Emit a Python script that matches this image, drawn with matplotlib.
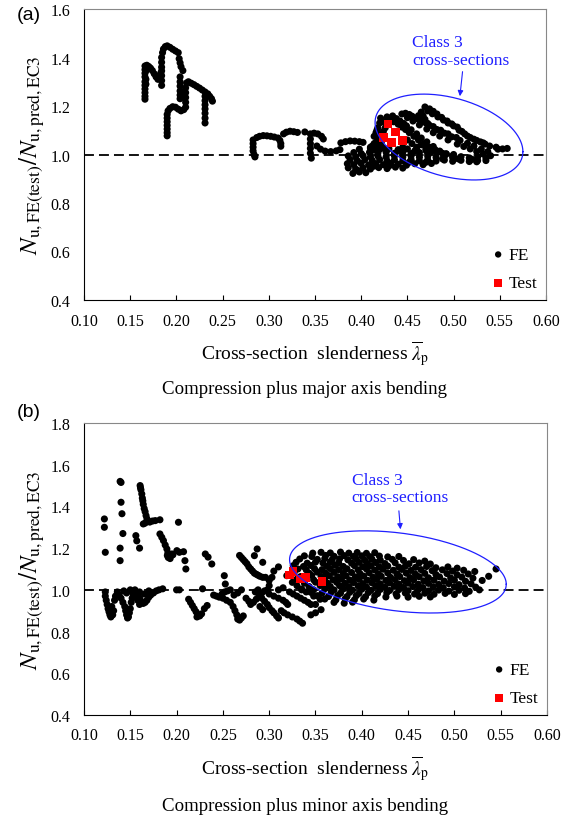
import numpy as np
import matplotlib
matplotlib.use('Agg')
import matplotlib.pyplot as plt

plt.rcParams['font.family'] = ['Liberation Serif', 'DejaVu Serif']
plt.rcParams['mathtext.fontset'] = 'stix'

# ---------------- data: panel (a) compression + major axis bending ----------------
a_g1 = [(0.166,1.365),(0.166,1.35),(0.166,1.335),(0.166,1.32),(0.166,1.30),(0.166,1.285),(0.166,1.27),
        (0.166,1.255),(0.166,1.24),(0.166,1.228),(0.167,1.345),(0.167,1.31),(0.167,1.29)]
a_g2 = [(0.168,1.368),(0.170,1.363),(0.172,1.356),(0.174,1.346),(0.176,1.333),(0.178,1.32),(0.180,1.31),
        (0.181,1.322),(0.183,1.335)]
a_g3 = [(0.184,1.40),(0.184,1.38),(0.184,1.36),(0.184,1.345),(0.184,1.325),(0.184,1.305),(0.184,1.285),(0.185,1.42)]
a_g4 = [(0.186,1.435),(0.188,1.445),(0.190,1.448),(0.193,1.442),(0.196,1.434),(0.199,1.427),(0.202,1.42)]
a_g5 = [(0.203,1.395),(0.204,1.378),(0.205,1.362),(0.207,1.346),(0.204,1.32),(0.204,1.30),(0.204,1.282),
        (0.204,1.262),(0.204,1.245),(0.204,1.23)]
a_g6 = [(0.190,1.165),(0.190,1.15),(0.190,1.135),(0.190,1.12),(0.190,1.105),(0.190,1.09),(0.190,1.077),
        (0.191,1.18),(0.193,1.19),(0.196,1.197),(0.199,1.195),(0.202,1.187),(0.205,1.18),(0.208,1.185),
        (0.210,1.195),(0.210,1.215),(0.210,1.235),(0.210,1.255),(0.210,1.275),(0.211,1.295)]
a_g7 = [(0.213,1.30),(0.216,1.294),(0.219,1.288),(0.222,1.281),(0.225,1.274),(0.228,1.266),(0.231,1.258),
        (0.234,1.25),(0.236,1.24),(0.238,1.23),(0.239,1.22),(0.231,1.24),(0.231,1.222),(0.231,1.205),
        (0.231,1.188),(0.231,1.17),(0.231,1.15),(0.231,1.13)]
a_g8 = [(0.283,1.06),(0.283,1.045),(0.283,1.03),(0.283,1.015),(0.284,1.0),(0.285,0.99),(0.287,1.07),
        (0.290,1.075),(0.294,1.078),(0.298,1.077),(0.302,1.075),(0.306,1.072),(0.310,1.068),(0.312,1.058),
        (0.313,1.045),(0.313,1.034),(0.316,1.085),(0.319,1.092),(0.323,1.096),(0.327,1.094),(0.331,1.091),
        (0.339,1.093)]
a_g9 = [(0.345,1.085),(0.349,1.088),(0.353,1.085),(0.357,1.075),(0.359,1.064),(0.345,1.064),(0.345,1.045),
        (0.345,1.025),(0.345,1.005),(0.346,0.985),(0.352,1.035),(0.356,1.022),(0.361,1.014),(0.367,1.012),
        (0.373,1.015),(0.377,1.02),(0.378,1.048),(0.383,1.053),(0.388,1.056),(0.393,1.055),(0.398,1.053),
        (0.402,1.05),(0.41,1.03),(0.414,1.045),(0.418,1.06),(0.42,1.065)]
a_low = [(0.391,0.922),(0.398,0.928),(0.405,0.925),
         (0.386,0.945),(0.394,0.94),(0.402,0.944),(0.41,0.94),(0.419,0.946),(0.428,0.942),(0.437,0.948),(0.445,0.944),
         (0.385,0.962),(0.392,0.958),(0.4,0.963),(0.408,0.957),(0.416,0.962),(0.424,0.958),(0.432,0.963),(0.44,0.96),
         (0.449,0.956),(0.458,0.962),(0.467,0.958),(0.476,0.963),
         (0.388,0.978),(0.396,0.974),(0.404,0.979),(0.412,0.975),(0.42,0.979),(0.428,0.974),(0.436,0.978),(0.445,0.974),
         (0.454,0.979),(0.463,0.974),(0.472,0.978),(0.481,0.973),(0.49,0.977),(0.499,0.972),(0.508,0.976),(0.517,0.971),
         (0.526,0.975),
         (0.386,0.994),(0.394,0.99),(0.402,0.995),(0.41,0.99),(0.418,0.994),(0.427,0.99),(0.436,0.994),(0.445,0.99),
         (0.454,0.994),(0.463,0.989),(0.472,0.993),(0.481,0.988),(0.49,0.992),(0.499,0.987),(0.508,0.991),(0.517,0.986),
         (0.526,0.99),(0.535,0.985),
         (0.392,1.008),(0.4,1.004),(0.409,1.009),(0.418,1.005),(0.427,1.009),(0.436,1.005),(0.445,1.009),(0.454,1.004),
         (0.463,1.008),(0.472,1.003),(0.482,1.007),(0.492,1.002),(0.5,1.0),
         (0.398,1.022),(0.41,1.025),(0.42,1.021),(0.43,1.024),(0.44,1.02),(0.45,1.023),(0.46,1.019),(0.47,1.017),(0.48,1.015),
         (0.396,0.935),(0.414,0.952),(0.43,0.952),(0.452,0.968),(0.47,0.968),(0.488,0.982),(0.505,0.982),(0.52,0.98)]
a_bands = [(0.428,1.155),(0.434,1.159),(0.438,1.148),(0.442,1.138),(0.446,1.128),(0.449,1.118),(0.454,1.102),
           (0.46,1.085),(0.465,1.068),(0.471,1.052),(0.478,1.033),(0.485,1.014),(0.492,1.003),(0.499,0.994),
           (0.43,1.145),(0.435,1.135),(0.44,1.125),(0.444,1.113),(0.448,1.103),(0.452,1.09),(0.457,1.075),
           (0.462,1.06),(0.468,1.045),(0.474,1.03),(0.48,1.02),(0.488,1.005),
           (0.421,1.15),(0.42,1.13),(0.418,1.11),(0.416,1.09),(0.414,1.075),(0.417,1.1),
           (0.41,1.01),(0.414,1.02),(0.418,1.03),(0.422,1.055),(0.42,1.08),(0.424,1.095),(0.426,1.11),(0.424,1.135),
           (0.444,1.167),(0.45,1.152),(0.456,1.138),(0.463,1.122),(0.471,1.105),(0.478,1.09),(0.485,1.076),
           (0.494,1.06),(0.504,1.043),(0.511,1.033),(0.518,1.023),(0.525,1.012),(0.532,1.002),
           (0.448,1.17),(0.455,1.158),(0.462,1.145),(0.47,1.13),(0.478,1.115),(0.486,1.1),(0.494,1.085),(0.503,1.07),
           (0.452,1.165),(0.459,1.15),(0.466,1.135),(0.474,1.12),(0.482,1.103),(0.49,1.088),(0.498,1.073),
           (0.507,1.058),(0.515,1.046),(0.522,1.035),(0.53,1.022),(0.537,1.012),
           (0.469,1.196),(0.474,1.188),(0.478,1.178),(0.482,1.167),(0.487,1.153),(0.493,1.138),(0.498,1.126),
           (0.504,1.113),(0.509,1.095),(0.515,1.076),(0.522,1.063),(0.529,1.052),(0.534,1.043),(0.539,1.035),
           (0.546,1.03),(0.553,1.023),
           (0.472,1.18),(0.477,1.168),(0.483,1.155),(0.489,1.142),(0.494,1.13),(0.5,1.118),(0.506,1.1),
           (0.512,1.085),(0.518,1.07),(0.525,1.058),(0.532,1.048),
           (0.465,1.175),(0.467,1.16),(0.469,1.145),
           (0.467,1.138),(0.472,1.128),(0.462,1.16),
           (0.518,0.98),(0.525,0.97),(0.558,1.025),(0.548,1.022),(0.54,0.995),(0.535,0.975),
           (0.412,1.035),(0.416,1.05),(0.421,1.04),(0.425,1.025),(0.45,1.06),(0.455,1.045),(0.46,1.03),
           (0.465,1.04),(0.47,1.025),(0.475,1.01),(0.458,1.015),(0.445,1.03),(0.44,1.015)]
a_test = [(0.429,1.126),(0.437,1.092),(0.424,1.071),(0.433,1.05),(0.445,1.057)]

# ---------------- data: panel (b) compression + minor axis bending ----------------
b_up = [(0.122,1.34),(0.122,1.30),(0.123,1.18),
        (0.139,1.52),(0.140,1.515),(0.140,1.42),(0.141,1.365),(0.142,1.27),(0.139,1.20),(0.139,1.14),
        (0.156,1.26),(0.157,1.235),(0.160,1.20),
        (0.1606,1.50),(0.161,1.49),(0.1615,1.48),(0.1624,1.46),(0.163,1.44),(0.1635,1.427),(0.164,1.41),
        (0.165,1.39),(0.166,1.375),(0.167,1.356),(0.168,1.34),(0.1685,1.332),(0.164,1.316),(0.166,1.32),
        (0.171,1.325),(0.174,1.33),(0.177,1.332),(0.182,1.336),
        (0.202,1.324),
        (0.182,1.268),(0.184,1.252),(0.1858,1.236),(0.1877,1.215),(0.1895,1.196),(0.1906,1.177),(0.1912,1.161),
        (0.190,1.165),(0.192,1.17),(0.193,1.16),(0.194,1.165),(0.195,1.172),(0.191,1.155),(0.193,1.15),(0.196,1.168),
        (0.2003,1.188),(0.2075,1.183),(0.209,1.14),(0.21,1.10),(0.203,1.18),
        (0.231,1.172),(0.234,1.157),(0.238,1.124),
        (0.2515,1.068),(0.2526,1.028),
        (0.268,1.165),(0.27,1.155),(0.272,1.145),(0.274,1.135),(0.276,1.125),(0.278,1.11),(0.28,1.10),
        (0.282,1.09),(0.284,1.08),(0.286,1.075),(0.288,1.07),(0.29,1.065),(0.293,1.06),(0.296,1.06),(0.3,1.045),
        (0.287,1.196),(0.284,1.164),(0.293,1.132),(0.305,1.09),(0.303,1.06),(0.30,1.02),(0.31,1.11)]
b_low = [(0.123,0.99),(0.123,0.97),(0.124,0.95),(0.125,0.93),(0.126,0.91),(0.127,0.895),(0.128,0.88),(0.129,0.87),
         (0.131,0.88),(0.132,0.90),(0.130,0.92),(0.133,0.95),(0.134,0.97),
         (0.136,0.99),(0.138,0.975),(0.14,0.96),(0.142,0.94),(0.144,0.92),(0.145,0.9),(0.146,0.88),(0.147,0.865),
         (0.148,0.87),(0.149,0.89),(0.15,0.91),(0.151,0.94),(0.152,0.96),(0.153,0.98),(0.154,0.99),(0.143,0.995),
         (0.146,0.985),(0.150,1.0),(0.155,1.0),
         (0.157,0.97),(0.16,0.96),(0.162,0.945),(0.164,0.935),(0.166,0.94),(0.168,0.95),(0.17,0.965),(0.172,0.975),
         (0.175,0.985),(0.178,0.995),(0.181,1.0),(0.185,1.005),(0.16,0.99),(0.165,0.98),(0.17,0.995),(0.158,0.95),
         (0.16,0.93),
         (0.20,1.0),(0.203,1.0),
         (0.213,0.955),(0.215,0.94),(0.217,0.925),(0.219,0.91),(0.221,0.895),(0.223,0.88),(0.225,0.875),(0.222,0.87),
         (0.227,0.885),(0.23,0.91),(0.233,0.925),(0.228,1.005),
         (0.24,0.975),(0.243,0.97),(0.246,0.965),(0.249,0.98),(0.252,0.99),(0.255,0.995),(0.258,1.0),(0.25,0.96),
         (0.254,0.95),(0.258,0.94),(0.261,0.92),(0.263,0.90),(0.265,0.88),(0.266,0.86),(0.268,0.855),(0.27,0.865),
         (0.272,0.875),(0.262,0.975),(0.266,0.985),(0.27,1.0),
         (0.275,0.96),(0.278,0.945),(0.28,0.93),(0.283,0.94),(0.286,0.955),(0.289,0.97),(0.292,0.985),(0.295,0.995),
         (0.298,1.0),(0.285,0.99),(0.288,1.0),(0.292,0.96),(0.295,0.945),(0.298,0.93),(0.30,0.915),(0.303,0.9),
         (0.305,0.89),(0.308,0.875),(0.31,0.865),(0.29,0.92),(0.293,0.905),
         (0.30,0.98),(0.305,0.97),(0.31,0.96),(0.315,0.95),(0.318,0.94),(0.32,0.93),(0.313,0.9),(0.316,0.89),
         (0.32,0.88),(0.325,0.87),(0.33,0.86),(0.333,0.85),(0.336,0.84),(0.322,0.99),(0.326,0.98),(0.33,0.97),
         (0.334,0.96),(0.338,0.95),(0.342,0.94),(0.345,0.93),(0.35,0.93),(0.355,0.955),(0.348,0.97),(0.34,0.99),
         (0.335,1.0),(0.31,1.0),(0.315,1.01),(0.345,0.88),(0.35,0.89),(0.356,0.905)]
b_class3 = [(0.347,1.176),(0.356,1.18),(0.366,1.177),(0.377,1.181),(0.386,1.176),(0.395,1.179),(0.405,1.175),(0.414,1.178),
            (0.338,1.163),(0.346,1.16),(0.361,1.165),(0.37,1.161),(0.381,1.164),(0.391,1.16),(0.4,1.163),(0.409,1.159),
            (0.419,1.162),(0.428,1.158),(0.44,1.16),
            (0.333,1.148),(0.352,1.146),(0.36,1.15),(0.368,1.145),(0.376,1.149),(0.385,1.144),(0.394,1.148),(0.403,1.143),
            (0.411,1.147),(0.42,1.142),(0.433,1.146),(0.445,1.141),(0.456,1.145),(0.468,1.138),
            (0.329,1.132),(0.341,1.128),(0.35,1.133),(0.358,1.129),(0.366,1.134),(0.375,1.13),(0.389,1.128),(0.397,1.132),
            (0.406,1.127),(0.415,1.131),(0.425,1.126),(0.436,1.13),(0.451,1.125),(0.462,1.129),(0.474,1.124),
            (0.326,1.116),(0.337,1.112),(0.345,1.117),(0.362,1.113),(0.371,1.118),(0.38,1.112),(0.392,1.116),(0.401,1.111),
            (0.41,1.115),(0.419,1.11),(0.428,1.114),(0.44,1.109),(0.447,1.113),(0.458,1.108),(0.47,1.112),(0.48,1.106),
            (0.493,1.11),(0.503,1.104),
            (0.331,1.1),(0.34,1.096),(0.349,1.101),(0.357,1.097),(0.366,1.102),(0.375,1.097),(0.384,1.101),(0.396,1.096),
            (0.405,1.1),(0.414,1.095),(0.423,1.099),(0.434,1.094),(0.443,1.098),(0.453,1.093),(0.464,1.097),(0.476,1.092),
            (0.487,1.096),(0.498,1.09),(0.51,1.094),(0.522,1.088),(0.545,1.1),
            (0.327,1.084),(0.343,1.08),(0.352,1.085),(0.361,1.08),(0.37,1.084),(0.38,1.079),(0.389,1.083),(0.398,1.078),
            (0.408,1.082),(0.418,1.077),(0.428,1.081),(0.438,1.076),(0.448,1.08),(0.458,1.075),(0.468,1.079),(0.48,1.074),
            (0.492,1.078),(0.503,1.072),(0.515,1.076),
            (0.319,1.068),(0.334,1.064),(0.346,1.069),(0.356,1.064),(0.365,1.068),(0.374,1.063),(0.383,1.067),(0.393,1.062),
            (0.402,1.066),(0.412,1.061),(0.421,1.065),(0.431,1.06),(0.441,1.064),(0.452,1.059),(0.462,1.063),(0.472,1.058),
            (0.484,1.062),(0.496,1.057),(0.508,1.061),(0.52,1.056),(0.537,1.065),
            (0.33,1.052),(0.348,1.048),(0.36,1.053),(0.369,1.048),(0.378,1.052),(0.387,1.047),(0.397,1.051),(0.406,1.046),
            (0.416,1.05),(0.426,1.045),(0.436,1.049),(0.446,1.044),(0.456,1.048),(0.467,1.043),(0.478,1.047),(0.489,1.042),
            (0.5,1.046),(0.512,1.041),(0.53,1.045),
            (0.325,1.036),(0.338,1.032),(0.35,1.037),(0.363,1.032),(0.373,1.036),(0.382,1.031),(0.391,1.035),(0.401,1.03),
            (0.411,1.034),(0.42,1.029),(0.43,1.033),(0.44,1.028),(0.45,1.032),(0.461,1.027),(0.472,1.031),(0.483,1.026),
            (0.494,1.03),(0.505,1.025),(0.518,1.029),
            (0.33,1.02),(0.343,1.016),(0.355,1.021),(0.366,1.016),(0.376,1.02),(0.386,1.015),(0.396,1.019),(0.405,1.014),
            (0.415,1.018),(0.425,1.013),(0.435,1.017),(0.445,1.012),(0.455,1.016),(0.466,1.011),(0.477,1.015),(0.488,1.01),
            (0.5,1.014),(0.511,1.009),(0.523,1.013),
            (0.335,1.004),(0.348,1.0),(0.36,1.005),(0.37,1.0),(0.38,1.004),(0.39,0.999),(0.4,1.003),(0.41,0.998),
            (0.42,1.002),(0.43,0.997),(0.44,1.001),(0.45,0.996),(0.461,1.0),(0.472,0.995),(0.483,0.999),(0.494,0.994),
            (0.505,0.998),(0.516,0.993),(0.527,1.0),
            (0.345,0.988),(0.357,0.984),(0.367,0.989),(0.377,0.984),(0.387,0.988),(0.397,0.983),(0.407,0.987),(0.417,0.982),
            (0.427,0.986),(0.437,0.981),(0.447,0.985),(0.457,0.98),(0.468,0.984),(0.478,0.979),(0.49,0.983),(0.5,0.978),
            (0.512,0.982),
            (0.352,0.972),(0.364,0.968),(0.374,0.973),(0.384,0.968),(0.394,0.972),(0.404,0.967),(0.414,0.971),(0.426,0.966),
            (0.438,0.97),(0.45,0.965),(0.462,0.969),(0.474,0.966),
            (0.36,0.956),(0.372,0.952),(0.382,0.957),(0.392,0.952),(0.402,0.956),(0.413,0.951),
            (0.37,0.94),(0.381,0.936),(0.39,0.941)]
b_test = [(0.322,1.071),(0.3255,1.089),(0.334,1.052),(0.339,1.06),(0.357,1.039)]

x_ticks = [0.10, 0.15, 0.20, 0.25, 0.30, 0.35, 0.40, 0.45, 0.50, 0.55, 0.60]
a_yticks = [0.4, 0.6, 0.8, 1.0, 1.2, 1.4, 1.6]
b_yticks = [0.4, 0.6, 0.8, 1.0, 1.2, 1.4, 1.6, 1.8]

BLUE = '#1f1fff'

fig = plt.figure(figsize=(5.69, 8.2), dpi=100)
axA = fig.add_axes([84/569, 1-301/820, 462/569, 291/820])
axB = fig.add_axes([84/569, 1-716/820, 463/569, 292/820])


def style(ax, ylim, yticks):
    ax.set_xlim(0.10, 0.60)
    ax.set_ylim(*ylim)
    ax.set_xticks(x_ticks)
    ax.set_xticklabels([f'{v:.2f}' for v in x_ticks])
    ax.set_yticks(yticks)
    ax.set_yticklabels([f'{v:.1f}' for v in yticks])
    ax.tick_params(axis='x', direction='in', length=3.5, width=0.8, pad=9, labelsize=11.5)
    ax.tick_params(axis='y', length=0, pad=10, labelsize=11.5)
    for s in ['top', 'right']:
        ax.spines[s].set_color('#888888')
    for s in ['left', 'bottom']:
        ax.spines[s].set_color('black')
    ax.axhline(1.0, color='black', lw=1.3, dashes=(5.5, 2.8), zorder=1)
    ax.set_ylabel(r'$N_{\mathrm{u,FE(test)}}/N_{\mathrm{u,pred,EC3}}$', fontsize=18, labelpad=2)
    ax.set_xlabel(r'Cross-section  slenderness $\overline{\lambda}_{\mathrm{p}}$', fontsize=14, labelpad=7)


def scatter(ax, fe_groups, tests):
    fe = [p for g in fe_groups for p in g]
    ax.scatter([p[0] for p in fe], [p[1] for p in fe], s=26, c='black', edgecolors='none', zorder=2, label='FE')
    ax.scatter([p[0] for p in tests], [p[1] for p in tests], s=38, marker='s', c='#ff0000',
               edgecolors='none', zorder=3, label='Test')
    ax.legend(loc='lower right', frameon=False, fontsize=12.5, handletextpad=0.1, labelspacing=0.7,
              handlelength=1.0, borderaxespad=0.3, borderpad=0.2, markerscale=0.9)


def ellipse(ax, cx, cy, rx, ry, phi):
    t = np.linspace(0, 2*np.pi, 300)
    ax.plot(cx + rx*np.cos(t), cy - ry*np.cos(t - phi), color=BLUE, lw=0.9, zorder=4)


style(axA, (0.4, 1.6), a_yticks)
scatter(axA, [a_g1, a_g2, a_g3, a_g4, a_g5, a_g6, a_g7, a_g8, a_g9, a_low, a_bands], a_test)
ellipse(axA, 0.495, 1.072, 0.080, 0.177, 1.224)
axA.text(0.455, 1.427, 'Class 3\ncross-sections', color=BLUE, fontsize=12.5, ha='left', va='center', linespacing=1.1)
axA.annotate('', xy=(0.5065, 1.229), xytext=(0.510, 1.353),
             arrowprops=dict(arrowstyle='-|>', color=BLUE, lw=0.8, mutation_scale=8))

style(axB, (0.4, 1.8), b_yticks)
scatter(axB, [b_up, b_low, b_class3], b_test)
ellipse(axB, 0.439, 1.086, 0.117, 0.197, 1.266)
axB.text(0.389, 1.486, 'Class 3\ncross-sections', color=BLUE, fontsize=12.5, ha='left', va='center', linespacing=1.1)
axB.annotate('', xy=(0.442, 1.277), xytext=(0.4398, 1.392),
             arrowprops=dict(arrowstyle='-|>', color=BLUE, lw=0.8, mutation_scale=8))

fig.text(17/569, 1-15/820, '(a)', fontsize=14, family='Liberation Sans', va='center', ha='left')
fig.text(17/569, 1-413/820, '(b)', fontsize=14, family='Liberation Sans', va='center', ha='left')
fig.text(305/569, 1-390/820, 'Compression plus major axis bending', fontsize=13.6, ha='center', va='center')
fig.text(305/569, 1-807/820, 'Compression plus minor axis bending', fontsize=13.6, ha='center', va='center')

fig.savefig('out.png', dpi=100)
